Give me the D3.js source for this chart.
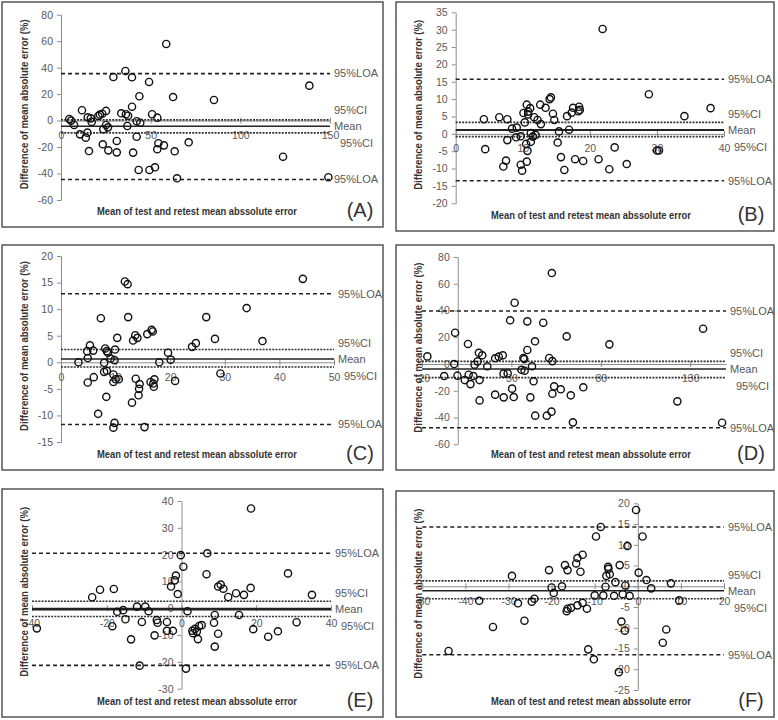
<!DOCTYPE html>
<html>
<head>
<meta charset="utf-8">
<script src="https://cdn.jsdelivr.net/npm/d3@7"></script>
<style>
  body { margin: 0; background: #fff; }
  text { font-family: "Liberation Sans", Arial, sans-serif; }
</style>
</head>
<body>
<div id="container"></div>
<script>
// ---- data ----
const aX = [4.6,5.6,7.3,10.6,11.7,13.8,14.7,14.9,15.6,16.6,17.1,20.8,21.7,23,25.1,23.6,25.1,26.2,23.3,26.4,29.2,31.1,31.1,33.6,35.9,36.2,37.4,37,39.6,39.6,40.2,42.2,42.2,43.7,44.2,43.3,49.1,49.3,50.8,52.4,53.7,53.7,54.3,57.4,58.7,62.5,63.4,64.7,71.2,85.3,138.5,123.8,149.1];
const aY = [1.2,0,-3.3,-10.4,7.8,-12.9,-9.1,2.5,-23,1.7,-1,3.5,4.5,5.2,7.3,-6.6,-3.3,-5.1,-17.9,-22.5,32.9,-15.4,-24,5.5,37.5,4.8,3.7,-4.1,32.7,10.5,-24.2,-0.5,-12.2,18.4,-1.6,-37.3,29.2,-37.3,4.8,-35.3,2.2,-21.7,-17.1,-18.7,57.9,17.8,-23.2,-43.6,-16.4,15.6,26.4,-27.3,-42.8];
const aLines = [35.5, 0.5, -4.2, -9.3, -44.5]; // LOA+, CI+, mean, CI-, LOA-

const bX = [4.2,4.4,6.5,7.1,7.5,7.7,7.7,8.4,9.1,9,9.7,9.7,9.9,10.1,10.3,10.5,10.6,10.6,10.7,10.8,10.8,11.1,11.2,11.2,11.5,11.7,11.9,12.2,12.6,12.7,13.4,14,14.2,14.5,14.7,15.2,15.4,15.7,16.2,16.6,16.9,17.3,17.5,17.8,18.3,18.4,19,18.5,21.9,21.3,22.9,23.7,25.5,28.8,30,30.3,34.1,38];
const bY = [4.2,-4.4,4.8,-9.4,-7.7,4.2,-1.8,1.5,1.8,-1,-0.7,-8.9,-10.6,6,3.3,-2.9,-8,8.4,-4.9,5.6,6.4,7.4,0.2,-2.3,-0.8,4.8,-0.3,4,8.4,2.8,7.5,10,10.5,5.8,4,-2.5,0.7,-6.7,-10.4,5.1,1.2,6.1,7.5,-7.3,6.5,7.8,-7.8,6.9,30.2,-7.3,-10.2,-3.9,-8.7,11.4,-4.8,-4.8,5.1,7.4];
const bLines = [15.7, 3.3, 1.1, -0.8, -13.5];

const cX = [3.2,4.8,4.9,4.9,5.3,5.9,6,6.8,7.3,7.9,7.9,8.1,8.4,8.4,8.3,8.6,9.1,9.6,9.6,9.8,9.9,9.8,9.6,10.3,10,10.6,11.7,12.2,12.3,13,13.2,13.6,13.7,14,14.2,14.3,14.4,15.3,15.8,16.4,16.6,16.8,16.9,17,17.1,18,19.6,20.1,20.9,24,24.7,26.6,28.2,29.2,34,36.9,44.3];
const cY = [0,2.1,0.8,-3.8,3.2,2.2,-2.8,-9.7,8.3,-0.1,-1.8,2.6,2.1,-1.6,-6.5,1.8,0.7,-2.3,-3.7,0.4,2.4,-11.4,-12.3,4.6,-3.2,-3.2,15.2,14.7,8.5,-7.6,4.1,5.1,-3.1,4.6,-6.2,-5,-4.1,-12.2,5.3,-3.7,6.1,5.8,-4,-4.6,-3.2,0,1.8,0.5,-3.5,2.9,3.6,8.5,4.4,-2.1,10.2,4,15.7];
const cLines = [12.9, 2.4, 0.6, -0.9, -11.7];

const dX = [-17,-7.6,-2,-1.5,-0.2,3.9,5.7,6.1,7.1,8.7,9.4,11.1,11.8,12.2,12.2,13.7,16.5,20.9,20.9,22.9,25.2,25.6,25.7,27.9,29.3,30.4,31.3,31.8,35.6,36.7,37.2,37.4,38.9,38.9,40.6,41.5,42.4,43.2,43.3,47.8,49.8,51.1,52.4,52.6,52.9,52.9,53.9,57.6,60.9,63.2,64.4,70.2,84.8,122.8,137.2,147.8];
const dY = [5.7,-9,0,23.4,-8.7,-12,15,-8,-15,-9,-0.5,2,8.4,-12,-27.2,6.5,-1.7,4.3,-22.9,5.5,6.5,-7.2,-24.9,-7,32.7,-18.4,-24.7,45.8,-4.3,4.5,3.7,-5,31.9,10.5,-24.9,-1.7,-12.9,17,-38.6,30.9,-38.6,4.5,-35.6,68,2.2,-22.2,-16.7,-18.9,20.7,-23.4,-43.6,-17.4,14.7,-27.9,26.4,-43.9];
const dLines = [39.6, 2.0, -3.8, -10.2, -47.6];

const eX = [-38.7,-23.9,-21.8,-18.5,-18.1,-17.2,-15.6,-15,-13.5,-11.9,-11.2,-10.6,-9.7,-8.8,-7.2,-6.6,-6.4,-3.9,-3.9,-2.8,-2.3,-1.8,-1.5,-1,-0.2,0.5,1.2,1.6,2.9,3.6,4.1,4.4,3.1,4.7,5.4,6.9,6.7,8.9,8.7,9.8,8.9,9.8,10.5,11.2,12.5,14.6,15.4,16.7,18.5,18.6,19.2,23.2,25.8,28.5,30.8,34.9];
const eY = [-7.5,4.1,6.9,-6.7,7.2,-1.3,-0.7,-4.1,-11.6,0.6,-21.4,-5.1,0.6,-1.1,-10.1,-4.4,-5.4,-5.1,-8.4,8.1,-8.4,10.4,12.2,5.3,19.8,15.5,-22.5,-1.1,-8.4,-7.7,-8.7,-11.5,-9.3,-6.6,-6.3,20.5,12.7,-2.5,-5.4,-9.5,-14.3,8.1,8.8,7.3,4.2,5.6,-2.5,5,7.6,37.2,-7.8,-10.6,-8.6,13,-5.2,5];
const eLines = [20.5, 2.6, -0.3, -3.1, -21.3];

const fX = [-43.9,-36.8,-33.6,-29.2,-27.8,-26.3,-24.6,-24,-20.6,-20,-19.5,-17.6,-16.9,-16.5,-16.3,-16.3,-15.5,-14.3,-14,-14,-13.3,-12.8,-12.8,-11.8,-11.5,-10.2,-10,-9.7,-8.6,-8,-7.5,-7.3,-6.9,-6.8,-6.5,-5.5,-5.2,-4.2,-3.8,-3.5,-3,-4.4,-2.9,-2.4,-1.9,-0.4,0.2,1.1,2,3.1,5.8,6.6,7.7,9.6];
const fY = [-15.6,-3.5,-9.8,2.5,-4.1,-8.3,-3.7,-3,3.9,-0.3,-1.6,0,5.1,-6,3.9,-5.4,-5.2,5.5,-4.6,6.8,3.5,7.6,-4,-5.4,-15.2,-17.6,-2.2,12,14.3,-2.2,-0.1,2.5,4.7,4.2,2.9,-2.3,1,5.1,-8.5,-1.9,-10.7,-20.7,0.2,9.7,-2.3,18.4,3.3,12,1.5,-0.5,-13.6,-10.4,0.7,-3.4];
const fLines = [14.3, 1.3, -1.1, -3.0, -16.5];

const xTicksA = [0, 50, 100, 150], yTicksA = d3.range(-60, 81, 20);
const xTicksB = [0, 10, 20, 30, 40], yTicksB = d3.range(-20, 36, 5);
const xTicksC = [0, 10, 20, 30, 40, 50], yTicksC = d3.range(-15, 21, 5);
const xTicksD = [-20, 30, 80, 130], yTicksD = d3.range(-60, 81, 20);
const xTicksE = [-40, -20, 0, 20, 40], yTicksE = d3.range(-30, 41, 10);
const xTicksF = [-50, -40, -30, -20, -10, 0, 10, 20], yTicksF = d3.range(-25, 21, 5);

const rightLabels = ["95%LOA", "95%CI", "Mean", "95%CI", "95%LOA"];
const yTitle = "Difference of mean absolute error (%)";
const xTitle = "Mean of test and retest mean abssolute error";

// ---- layout of the six panels ----
const panels = [
  {id: "A", xs: aX, ys: aY, lines: aLines, xd: [0,150], yd: [-60,80], xt: xTicksA, yt: yTicksA,
   frame: [2,2,381,225], xr: [61,330], yr: [200,14.7], meanW: 1.5},
  {id: "B", xs: bX, ys: bY, lines: bLines, xd: [0,40], yd: [-20,35], xt: xTicksB, yt: yTicksB,
   frame: [396,2,378,229], xr: [455.7,724], yr: [203.3,12.3], meanW: 2},
  {id: "C", xs: cX, ys: cY, lines: cLines, xd: [0,50], yd: [-15,20], xt: xTicksC, yt: yTicksC,
   frame: [2,245,381,225], xr: [61,334], yr: [442,256], meanW: 1.5},
  {id: "D", xs: dX, ys: dY, lines: dLines, xd: [-20,150], yd: [-60,80], xt: xTicksD, yt: yTicksD,
   frame: [396,245,378,225], xr: [422,726], yr: [444.3,257], meanW: 1.5},
  {id: "E", xs: eX, ys: eY, lines: eLines, xd: [-40,40], yd: [-30,40], xt: xTicksE, yt: yTicksE,
   frame: [2,489,381,228], xr: [32,331], yr: [688.7,501], meanW: 2.8},
  {id: "F", xs: fX, ys: fY, lines: fLines, xd: [-50,20], yd: [-25,20], xt: xTicksF, yt: yTicksF,
   frame: [396,491,378,226], xr: [422.3,724], yr: [690,503.3], meanW: 1.5}
];

const svg = d3.select("#container")
  .append("svg")
  .attr("width", 778)
  .attr("height", 720);

const axisGrey = "#8c8c8c", textGrey = "#595959";

panels.forEach(p => {
  const g = svg.append("g").attr("id", "panel" + p.id);
  const [fx, fy, fw, fh] = p.frame;

  g.append("rect")
    .attr("x", fx).attr("y", fy).attr("width", fw).attr("height", fh)
    .attr("fill", "none").attr("stroke", "#555").attr("stroke-width", 1.5);

  const x = d3.scaleLinear().domain(p.xd).range(p.xr);
  const y = d3.scaleLinear().domain(p.yd).range(p.yr);

  // y axis at x = 0
  const yAxis = g.append("g")
    .attr("transform", "translate(" + x(0) + ",0)")
    .call(d3.axisLeft(y).tickValues(p.yt).tickFormat(d => String(d))
      .tickSizeInner(4).tickSizeOuter(0).tickPadding(4));
  // x axis at y = 0
  const xAxis = g.append("g")
    .attr("transform", "translate(0," + y(0) + ")")
    .call(d3.axisBottom(x).tickValues(p.xt).tickFormat(d => String(d))
      .tickSizeInner(3).tickSizeOuter(0).tickPadding(8));
  [xAxis, yAxis].forEach(a => {
    a.select(".domain").attr("stroke", axisGrey);
    a.selectAll(".tick line").attr("stroke", axisGrey);
    a.selectAll(".tick text").attr("fill", textGrey).style("font-size", "10.5px");
  });
  xAxis.selectAll(".tick line").attr("y1", -3);

  // reference lines: LOA dashed, CI dotted, mean solid
  const styles = [
    {dash: "4,3", w: 1.6, c: "#222"},
    {dash: "2,1.2", w: 1.6, c: "#333"},
    {dash: null, w: p.meanW, c: "#222"},
    {dash: "2,1.2", w: 1.6, c: "#333"},
    {dash: "4,3", w: 1.6, c: "#222"}
  ];
  g.selectAll(".refline")
    .data(p.lines)
    .enter()
    .append("line")
    .attr("class", "refline")
    .attr("x1", x(p.xd[0])).attr("x2", x(p.xd[1]))
    .attr("y1", d => y(d)).attr("y2", d => y(d))
    .attr("stroke", (d, i) => styles[i].c)
    .attr("stroke-width", (d, i) => styles[i].w)
    .attr("stroke-dasharray", (d, i) => styles[i].dash);

  // labels on the right (lower CI label pushed right, past the last x tick label)
  const meanY = y(p.lines[2]);
  const labelY = [y(p.lines[0]), meanY - 16, meanY, meanY + 17, y(p.lines[4])];
  const labelDx = [4, 4, 4, 10, 4];
  g.selectAll(".rlabel")
    .data(rightLabels)
    .enter()
    .append("text")
    .attr("class", "rlabel")
    .attr("x", (d, i) => p.xr[1] + labelDx[i])
    .attr("y", (d, i) => labelY[i])
    .attr("dy", "0.35em")
    .attr("fill", textGrey)
    .style("font-size", "11px")
    .text(d => d);

  // points
  g.selectAll(".pt")
    .data(p.xs.map((v, i) => [v, p.ys[i]]))
    .enter()
    .append("circle")
    .attr("class", "pt")
    .attr("cx", d => x(d[0]))
    .attr("cy", d => y(d[1]))
    .attr("r", 3.6)
    .attr("fill", "none")
    .attr("stroke", "#111")
    .attr("stroke-width", 1.4);

  // titles
  const yMid = (p.yr[0] + p.yr[1]) / 2 - 3;
  g.append("text")
    .attr("transform", "translate(" + (fx + 26) + "," + yMid + ") rotate(-90)")
    .attr("text-anchor", "middle")
    .attr("fill", "#333")
    .style("font-size", "10.5px")
    .style("font-weight", "bold")
    .attr("textLength", 170)
    .attr("lengthAdjust", "spacingAndGlyphs")
    .text(yTitle);

  g.append("text")
    .attr("x", fx + 195)
    .attr("y", fy + fh - 12)
    .attr("text-anchor", "middle")
    .attr("fill", "#333")
    .style("font-size", "10px")
    .style("font-weight", "bold")
    .attr("textLength", 200)
    .attr("lengthAdjust", "spacingAndGlyphs")
    .text(xTitle);

  g.append("text")
    .attr("x", fx + fw - 23)
    .attr("y", fy + fh - 10)
    .attr("text-anchor", "middle")
    .attr("fill", "#333")
    .style("font-size", "20px")
    .text("(" + p.id + ")");
});
</script>
</body>
</html>
